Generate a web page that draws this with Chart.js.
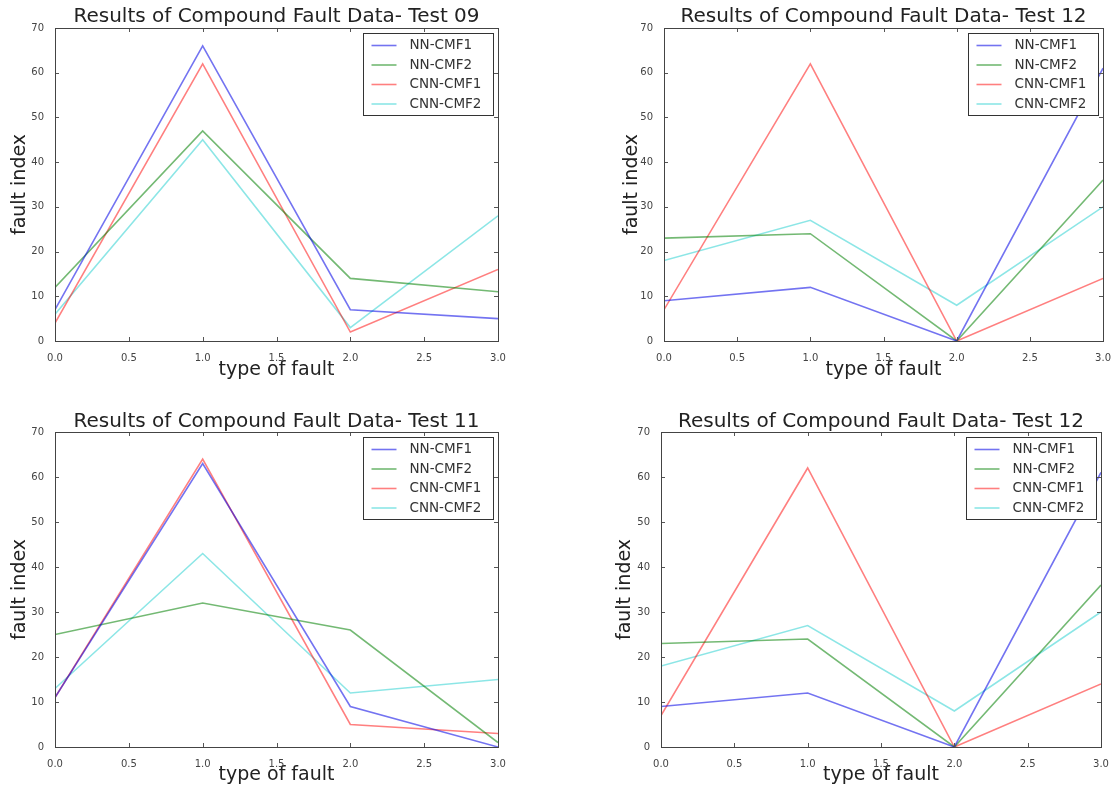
<!DOCTYPE html>
<html>
<head>
<meta charset="utf-8">
<script src="https://cdn.jsdelivr.net/npm/chart.js@4.4.1/dist/chart.umd.min.js"></script>
<style>
  body { margin: 0; background: #fff; }
  #wrap { position: relative; width: 1114px; height: 790px; overflow: hidden; background: #fff; }
  #wrap canvas { position: absolute; }
</style>
</head>
<body>
<div id="wrap">
  <canvas id="test09"></canvas>
  <canvas id="test12a"></canvas>
  <canvas id="test11"></canvas>
  <canvas id="test12b"></canvas>
</div>
<script>
// x positions (type of fault) and series names
const faultTypes = [0, 1, 2, 3];
const seriesNames = ['NN-CMF1', 'NN-CMF2', 'CNN-CMF1', 'CNN-CMF2'];

// Test 09
const test09NnCmf1 = [7, 66, 7, 5];
const test09NnCmf2 = [12, 47, 14, 11];
const test09CnnCmf1 = [4, 62, 2, 16];
const test09CnnCmf2 = [6, 45, 3, 28];

// Test 12
const test12NnCmf1 = [9, 12, 0, 61];
const test12NnCmf2 = [23, 24, 0, 36];
const test12CnnCmf1 = [7, 62, 0, 14];
const test12CnnCmf2 = [18, 27, 8, 30];

// Test 11
const test11NnCmf1 = [11, 63, 9, 0];
const test11NnCmf2 = [25, 32, 26, 1];
const test11CnnCmf1 = [11, 64, 5, 3];
const test11CnnCmf2 = [13, 43, 12, 15];

const seriesColors = [
  'rgba(0, 0, 230, 0.55)',
  'rgba(0, 128, 0, 0.55)',
  'rgba(255, 0, 0, 0.5)',
  'rgba(0, 200, 200, 0.45)'
];

const FONT = 'DejaVu Sans';

// frame, inward ticks and the legend box inside the axes
const frameAndLegend = {
  id: 'frameAndLegend',
  afterDatasetsDraw(chart) {
    const { ctx, chartArea: a, scales } = chart;
    ctx.save();
    ctx.strokeStyle = '#555';
    ctx.lineWidth = 1;
    ctx.beginPath();
    scales.x.ticks.forEach(t => {
      const px = Math.round(scales.x.getPixelForValue(t.value)) + 0.5;
      ctx.moveTo(px, a.bottom); ctx.lineTo(px, a.bottom - 4);
      ctx.moveTo(px, a.top); ctx.lineTo(px, a.top + 4);
    });
    scales.y.ticks.forEach(t => {
      const py = Math.round(scales.y.getPixelForValue(t.value)) + 0.5;
      ctx.moveTo(a.left, py); ctx.lineTo(a.left + 4, py);
      ctx.moveTo(a.right, py); ctx.lineTo(a.right - 4, py);
    });
    ctx.stroke();
    ctx.strokeStyle = '#444';
    ctx.strokeRect(Math.round(a.left) + 0.5, Math.round(a.top) + 0.5,
      Math.round(a.right - a.left), Math.round(a.bottom - a.top));

    // legend
    const w = 130, h = 82, inset = 5;
    const lx = Math.round(a.right - inset - w) + 0.5;
    const ly = Math.round(a.top + inset) + 0.5;
    ctx.fillStyle = '#fff';
    ctx.fillRect(lx, ly, w, h);
    ctx.strokeStyle = '#333';
    ctx.strokeRect(lx, ly, w, h);
    ctx.font = '13.5px "' + FONT + '"';
    ctx.textBaseline = 'middle';
    chart.data.datasets.forEach((ds, i) => {
      const ry = ly + 12 + i * 19.5;
      ctx.strokeStyle = ds.borderColor;
      ctx.lineWidth = 1.6;
      ctx.beginPath();
      ctx.moveTo(lx + 8, ry); ctx.lineTo(lx + 33, ry);
      ctx.stroke();
      ctx.fillStyle = '#333';
      ctx.fillText(ds.label, lx + 46, ry);
    });
    ctx.restore();
  }
};

function makePanel(id, title, series, box) {
  const canvas = document.getElementById(id);
  canvas.width = box.w;
  canvas.height = box.h;
  canvas.style.left = box.left + 'px';
  canvas.style.top = box.top + 'px';

  new Chart(canvas, {
    type: 'line',
    data: {
      datasets: series.map((vals, i) => ({
        label: seriesNames[i],
        data: faultTypes.map((x, j) => ({ x: x, y: vals[j] })),
        borderColor: seriesColors[i],
        borderWidth: 1.6,
        pointRadius: 0,
        fill: false,
        tension: 0
      }))
    },
    options: {
      responsive: false,
      animation: false,
      layout: {
        padding: { left: 0, top: 0, bottom: 0, right: box.left + box.w - box.plot.r }
      },
      plugins: {
        legend: { display: false },
        tooltip: { enabled: false },
        title: { display: false }
      },
      scales: {
        x: {
          type: 'linear',
          min: 0,
          max: 3,
          grid: { display: false },
          border: { display: false },
          ticks: {
            stepSize: 0.5,
            autoSkip: false,
            maxRotation: 0,
            padding: 3,
            color: '#444',
            font: { family: FONT, size: 10 },
            callback: v => Number(v).toFixed(1)
          },
          title: {
            display: true,
            text: 'type of fault',
            color: '#222',
            font: { family: FONT, size: 19 },
            padding: { top: 0, bottom: box.top + box.h - box.xTitleY - 11.4 }
          },
          afterFit: s => { s.height = box.top + box.h - box.plot.b; }
        },
        // top axis only carries the panel title, centred over the plot area
        xTop: {
          type: 'linear',
          position: 'top',
          min: 0,
          max: 3,
          grid: { display: false },
          border: { display: false },
          ticks: { display: false },
          title: {
            display: true,
            text: title,
            color: '#222',
            font: { family: FONT, size: 20, lineHeight: 1 },
            padding: { top: box.titleY - box.top - 10, bottom: 0 }
          },
          afterFit: s => { s.height = box.plot.t - box.top; }
        },
        y: {
          min: 0,
          max: 70,
          grid: { display: false },
          border: { display: false },
          ticks: {
            stepSize: 10,
            padding: 3,
            color: '#444',
            font: { family: FONT, size: 10 }
          },
          title: {
            display: true,
            text: 'fault index',
            color: '#222',
            font: { family: FONT, size: 19 },
            padding: { top: box.yTitleX - box.left - 11.4, bottom: 0 }
          },
          afterFit: s => { s.width = box.plot.l - box.left; }
        }
      }
    },
    plugins: [frameAndLegend]
  });
}

makePanel('test09', 'Results of Compound Fault Data- Test 09',
  [test09NnCmf1, test09NnCmf2, test09CnnCmf1, test09CnnCmf2],
  { left: 0, top: 0, w: 557, h: 395, plot: { l: 55, t: 28, r: 498, b: 341 }, titleY: 16.7, yTitleX: 20, xTitleY: 370 });

makePanel('test12a', 'Results of Compound Fault Data- Test 12',
  [test12NnCmf1, test12NnCmf2, test12CnnCmf1, test12CnnCmf2],
  { left: 612, top: 0, w: 502, h: 395, plot: { l: 664, t: 28, r: 1105, b: 341 }, titleY: 17, yTitleX: 632, xTitleY: 370 });

makePanel('test11', 'Results of Compound Fault Data- Test 11',
  [test11NnCmf1, test11NnCmf2, test11CnnCmf1, test11CnnCmf2],
  { left: 0, top: 395, w: 557, h: 395, plot: { l: 55, t: 432, r: 498, b: 747 }, titleY: 422, yTitleX: 20, xTitleY: 775 });

makePanel('test12b', 'Results of Compound Fault Data- Test 12',
  [test12NnCmf1, test12NnCmf2, test12CnnCmf1, test12CnnCmf2],
  { left: 605, top: 395, w: 509, h: 395, plot: { l: 661, t: 432, r: 1101, b: 747 }, titleY: 422, yTitleX: 625, xTitleY: 775 });
</script>
</body>
</html>
